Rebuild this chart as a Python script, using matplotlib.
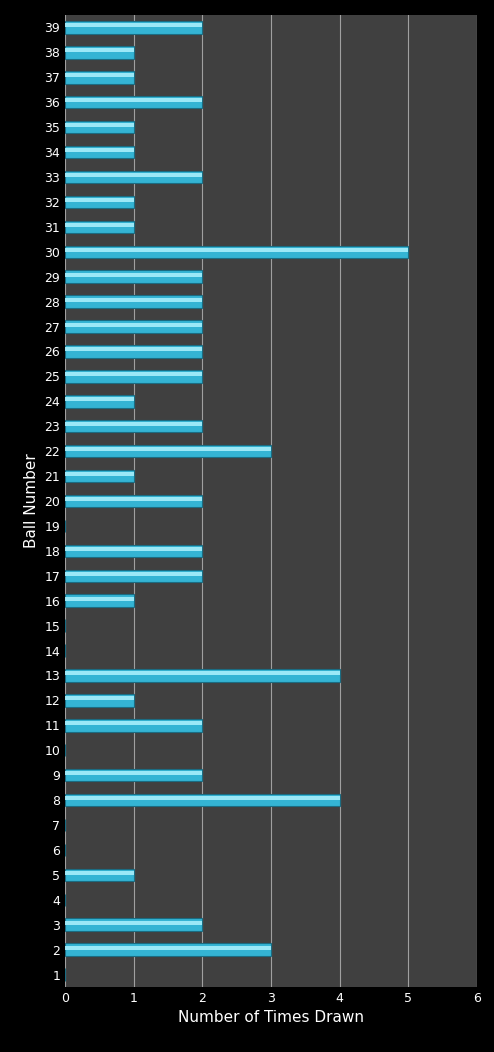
import matplotlib
matplotlib.use('Agg')
import matplotlib.pyplot as plt

balls = list(range(1, 40))
counts = [0, 3, 2, 0, 1, 0, 0, 4, 2, 0,
          2, 1, 4, 0, 0, 1, 2, 2, 0, 2,
          1, 3, 2, 1, 2, 2, 2, 2, 2, 5,
          1, 1, 2, 1, 1, 2, 1, 1, 2]

fig = plt.figure(figsize=(4.94, 10.52), dpi=100, facecolor='black')
ax = fig.add_axes([65/494, 65/1052, 412/494, 972/1052])
ax.set_facecolor('#404040')

# main bar plus a light highlight strip to fake the gradient look
ax.barh(balls, counts, height=0.5, color='#34b4d4', edgecolor='#1b6c82', linewidth=0.8, zorder=3)
ax.barh([b + 0.08 for b in balls], counts, height=0.16, color='#9be8f7', linewidth=0, zorder=4)

ax.set_xlim(0, 6)
ax.set_ylim(0.5, 39.5)
ax.set_xticks(range(0, 7))
ax.set_yticks(balls)
ax.grid(axis='x', color='#a0a0a0', linewidth=0.8, zorder=1)
ax.tick_params(colors='white', labelsize=9, length=0)
for s in ax.spines.values():
    s.set_visible(False)
ax.set_xlabel('Number of Times Drawn', color='white', fontsize=11, labelpad=4)
ax.set_ylabel('Ball Number', color='white', fontsize=11, labelpad=4)

fig.savefig('out.png', dpi=100, facecolor='black')
